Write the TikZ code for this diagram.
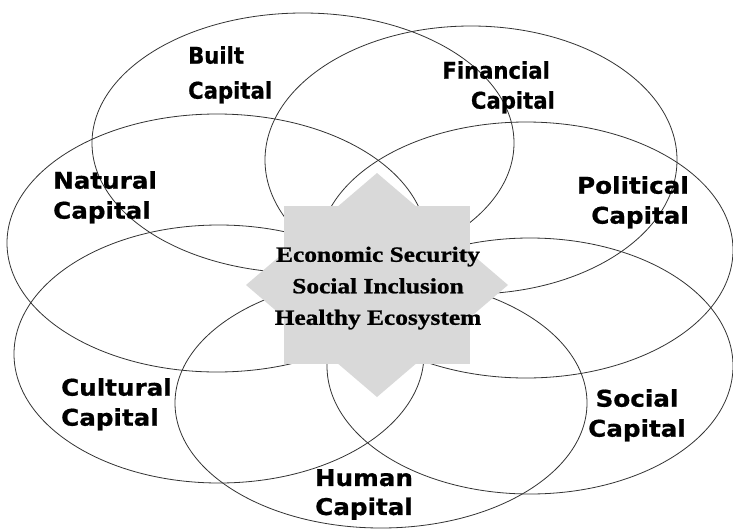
\documentclass[tikz,border=0pt]{standalone}
\usepackage{fontspec}
\usepackage{graphicx}
\newfontfamily\labwide{DejaVu Sans Bold}[FakeStretch=1.07, FakeBold=0.8]
\newfontfamily\labnarrow{DejaVu Sans Bold}[FakeStretch=0.92, FakeBold=0.8]
\newfontfamily\cenfont{Liberation Serif Bold}[FakeStretch=1.17, FakeBold=1]
\definecolor{starfill}{RGB}{217,217,217}
\begin{document}
\begin{tikzpicture}[x=1pt,y=-1pt,
  ring/.style={draw=black!80, line width=0.8pt},
  lab/.style={inner sep=0pt, font=\labwide\fontsize{23}{30}\selectfont},
  labn/.style={inner sep=0pt, font=\labnarrow\fontsize{23}{30}\selectfont},
  goal/.style={inner sep=0pt, align=center, font=\cenfont\fontsize{21.7}{31.5}\selectfont}]
\useasboundingbox (0,0) rectangle (733,530);
\fill[white] (0,0) rectangle (733,530);
% capital ellipses
\draw[ring] (303,143) ellipse [x radius=211, y radius=130];
\draw[ring] (471,160) ellipse [x radius=206, y radius=134];
\draw[ring] (217,243) ellipse [x radius=210, y radius=129];
\draw[ring] (526,250) ellipse [x radius=207, y radius=128];
\draw[ring] (219,354) ellipse [x radius=205, y radius=129];
\draw[ring] (381,403) ellipse [x radius=206, y radius=125];
\draw[ring] (530,366) ellipse [x radius=203, y radius=128];
% central star
\fill[starfill] (284,206) rectangle (470,364);
\fill[starfill] (246,285) -- (377,173) -- (508,285) -- (377,397) -- cycle;
% labels
\node[labn, anchor=north west, align=left] (built) at (188,46) {Built\\[5pt]Capital};
\node[labn, anchor=north east, align=right] (financial) at (555,61) {Financial\rule{5pt}{0pt}\\Capital};
\node[lab, anchor=north west, align=left] (natural) at (53,171) {Natural\\Capital};
\node[lab, anchor=north east, align=right] (political) at (689,176) {Political\\Capital};
\node[lab, anchor=north west, align=left] (cultural) at (61,378) {Cultural\\Capital};
\node[lab, anchor=north, align=center] (social) at (637,389) {Social\\Capital};
\node[lab, anchor=north, align=center] (human) at (364,469) {Human\\[-1pt]Capital};
\node[goal, anchor=north] (goals) at (378,246.5) {Economic Security\\Social Inclusion\\Healthy Ecosystem};
\end{tikzpicture}
\end{document}
